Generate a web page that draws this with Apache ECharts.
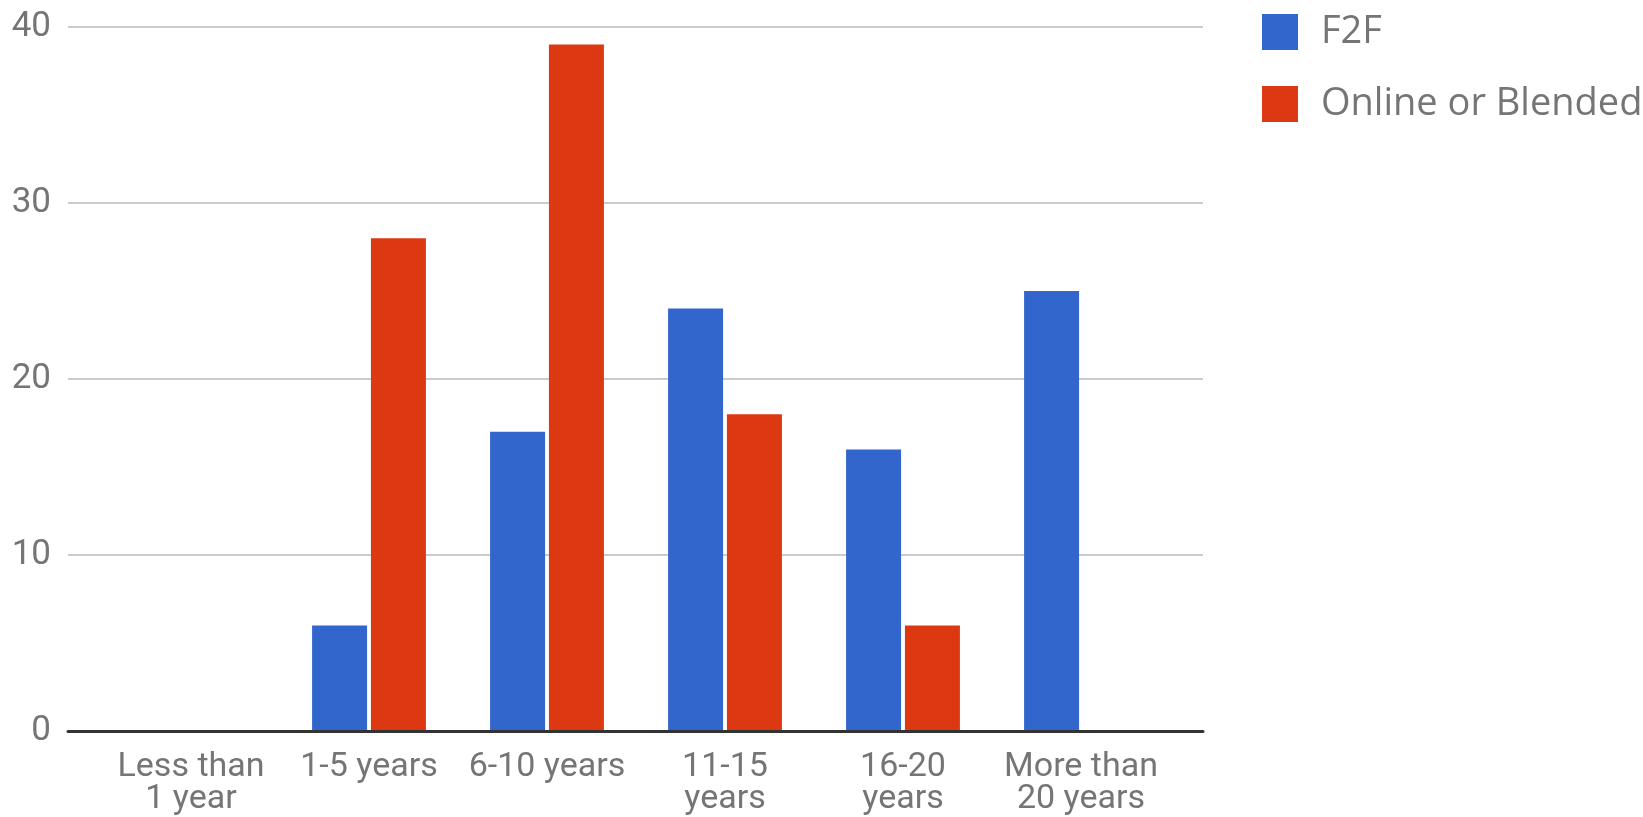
<!DOCTYPE html>
<html>
<head>
<meta charset="utf-8">
<title>Years of teaching experience</title>
<script src="https://cdn.jsdelivr.net/npm/echarts@6/dist/echarts.min.js"></script>
<style>
  html, body { margin: 0; padding: 0; background: #ffffff; }
  #chart { width: 1643px; height: 817px; }
</style>
</head>
<body>
<div id="chart"></div>
<script>
// Years of experience, by teaching mode
const categories = ['Less than\n1 year', '1-5 years', '6-10 years', '11-15\nyears', '16-20\nyears', 'More than\n20 years'];
const seriesNames = ['F2F', 'Online or Blended'];
const f2fValues = [0, 6, 17, 24, 16, 25];
const onlineValues = [0, 28, 39, 18, 6, 0];
const yTicks = { min: 0, max: 40, interval: 10 };

const labelGray = '#757575';
const chart = echarts.init(document.getElementById('chart'), null, { renderer: 'canvas' });

chart.setOption({
  backgroundColor: '#ffffff',
  animation: false,
  textStyle: { fontFamily: 'Roboto' },
  legend: {
    data: seriesNames,
    orient: 'vertical',
    left: 1262,
    top: 13,
    padding: 0,
    itemWidth: 36,
    itemHeight: 36,
    itemGap: 34,
    icon: 'rect',
    textStyle: {
      fontFamily: 'Open Sans',
      fontSize: 38,
      color: labelGray,
      padding: [0, 0, 0, 18]
    }
  },
  grid: [
    // full-width frame: value axis, gridlines and baseline
    { left: 68, right: 440, top: 27, bottom: 86 },
    // inner band holding the grouped bars
    { left: 102, right: 473, top: 27, bottom: 86 }
  ],
  xAxis: [
    {
      gridIndex: 0,
      type: 'category',
      data: categories,
      z: 5,
      axisLine: { show: true, lineStyle: { color: '#333333', width: 3 } },
      axisTick: { show: false },
      axisLabel: { show: false },
      splitLine: { show: false }
    },
    {
      gridIndex: 1,
      type: 'category',
      data: categories,
      axisLine: { show: false },
      axisTick: { show: false },
      axisLabel: {
        interval: 0,
        margin: 20,
        fontSize: 34,
        lineHeight: 32,
        color: labelGray,
        fontFamily: 'Roboto'
      }
    }
  ],
  yAxis: [
    {
      gridIndex: 0,
      type: 'value',
      min: yTicks.min,
      max: yTicks.max,
      interval: yTicks.interval,
      axisLine: { show: false },
      axisTick: { show: false },
      axisLabel: { margin: 17, fontSize: 35, color: labelGray, fontFamily: 'Roboto' },
      splitLine: { show: true, lineStyle: { color: '#cccccc', width: 2 } }
    },
    {
      gridIndex: 1,
      type: 'value',
      min: yTicks.min,
      max: yTicks.max,
      interval: yTicks.interval,
      show: false,
      splitLine: { show: false }
    }
  ],
  series: [
    {
      name: seriesNames[0],
      type: 'bar',
      xAxisIndex: 1,
      yAxisIndex: 1,
      data: f2fValues,
      barWidth: 55,
      barGap: '7%',
      itemStyle: { color: '#3366cc' }
    },
    {
      name: seriesNames[1],
      type: 'bar',
      xAxisIndex: 1,
      yAxisIndex: 1,
      data: onlineValues,
      barWidth: 55,
      barGap: '7%',
      itemStyle: { color: '#dc3912' }
    }
  ]
});
</script>
</body>
</html>
